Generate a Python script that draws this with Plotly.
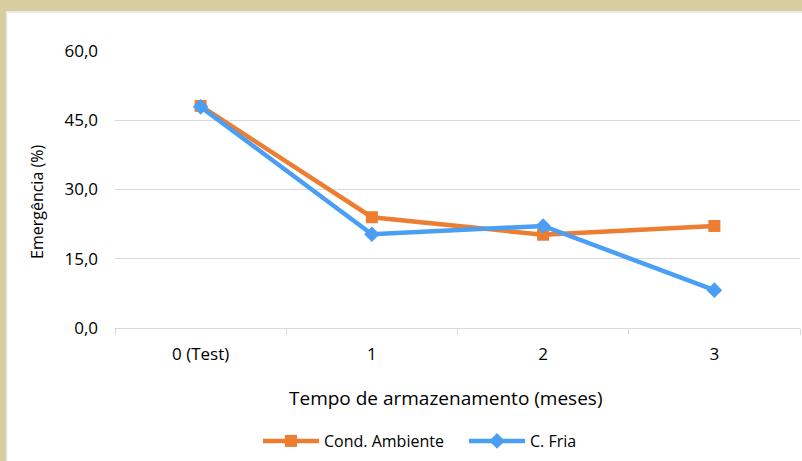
import plotly.graph_objects as go

categories = ["0 (Test)", "1", "2", "3"]
cond_ambiente = [48.1, 24.0, 20.2, 22.1]
c_fria = [47.9, 20.3, 22.1, 8.2]
y_ticks = [0, 15, 30, 45, 60]

FONT = "Open Sans"
fig = go.Figure()
fig.add_trace(go.Scatter(
    x=categories, y=cond_ambiente, name="Cond. Ambiente", mode="lines+markers",
    line=dict(color="#ED7D31", width=4.5),
    marker=dict(symbol="square", size=12, color="#ED7D31"),
    legend="legend",
))
fig.add_trace(go.Scatter(
    x=categories, y=c_fria, name="C. Fria", mode="lines+markers",
    line=dict(color="#4A9FF5", width=4.5),
    marker=dict(symbol="diamond", size=12, color="#4A9FF5"),
    legend="legend2",
))

L, R, T, B = 115, 2, 51, 133
W, H = 802, 461
pw, ph = W - L - R, H - T - B

def px(x):
    return (x - L) / pw

def py(y):
    return (H - B - y) / ph

shapes = [
    dict(type="rect", xref="paper", yref="paper", x0=px(0), x1=px(6), y0=py(H), y1=py(0),
         fillcolor="#D7CD9E", line=dict(width=0), layer="below"),
    dict(type="rect", xref="paper", yref="paper", x0=px(0), x1=px(W), y0=py(11), y1=py(0),
         fillcolor="#D7CD9E", line=dict(width=0), layer="below"),
    dict(type="line", xref="paper", yref="paper", x0=px(6.5), x1=px(6.5), y0=py(H), y1=py(11.5),
         line=dict(color="#E4E4E4", width=1.5)),
    dict(type="line", xref="paper", yref="paper", x0=px(6.5), x1=px(W), y0=py(12), y1=py(12),
         line=dict(color="#E4E4E4", width=1.5)),
]

leg_common = dict(orientation="h", yanchor="middle", xanchor="left",
                  font=dict(family=FONT, size=16), itemwidth=56, bgcolor="rgba(0,0,0,0)")

fig.update_layout(
    width=W, height=H,
    margin=dict(l=L, r=R, t=T, b=B, autoexpand=False),
    paper_bgcolor="white", plot_bgcolor="white",
    separators=",.",
    font=dict(family=FONT, size=16, color="#000000"),
    showlegend=True,
    legend=dict(x=px(258), y=py(441), **leg_common),
    legend2=dict(x=px(464), y=py(441), **leg_common),
    shapes=shapes,
    annotations=[
        dict(text="Tempo de armazenamento (meses)", xref="paper", yref="paper",
             x=px(446), y=py(398), showarrow=False, xanchor="center", yanchor="middle",
             font=dict(family=FONT, size=19)),
        dict(text="Emergência (%)", xref="paper", yref="paper", textangle=-90,
             x=px(37), y=py(202), showarrow=False, xanchor="center", yanchor="middle",
             font=dict(family=FONT, size=16)),
    ],
)
fig.update_xaxes(
    type="category", range=[-0.5, 3.5], showgrid=False,
    showline=True, linecolor="#D9D9D9", linewidth=1,
    ticks="outside", tickson="boundaries", ticklen=6, tickcolor="#D9D9D9",
    tickfont=dict(family=FONT, size=17), ticklabelstandoff=11,
)
fig.update_yaxes(
    range=[0, 60], tickvals=y_ticks, tickformat=".1f",
    showgrid=True, gridcolor="#D9D9D9", gridwidth=1,
    zeroline=False, showline=False, ticks="",
    tickfont=dict(family=FONT, size=17), ticklabelstandoff=16,
)
fig.write_html(
    "out.html",
    config={"displayModeBar": False},
    post_script="document.body.style.margin='0';document.body.style.overflow='hidden';",
)
